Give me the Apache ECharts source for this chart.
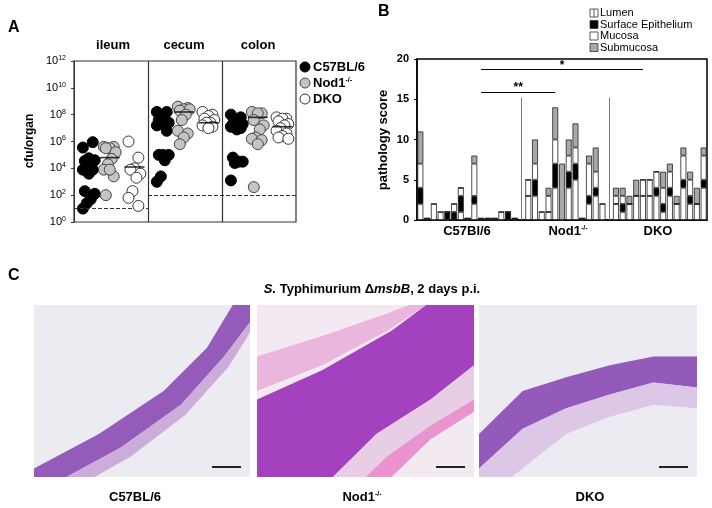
<!DOCTYPE html>
<html><head><meta charset="utf-8">
<script src="https://cdn.jsdelivr.net/npm/echarts@6/dist/echarts.min.js"></script>
<style>html,body{margin:0;padding:0;background:#fff}#c{width:712px;height:508px}</style>
</head><body><div id="c"></div>
<script>
// ---- Panel A data (log10 cfu/organ) ----
const organs = ['ileum','cecum','colon'];
const strains = ['C57BL/6','Nod1-/-','DKO'];
const ileumC57 = [5.55,5.95,4.75,4.55,4.6,3.9,3.9,3.9,3.9,3.6,2.3,2.1,1.7,1.4,1.0];
const ileumNod1 = [5.6,5.6,5.5,5.5,5.2,4.7,4.3,3.9,3.4,3.9,2.0];
const ileumDKO = [6.0,4.8,4.0,3.9,3.6,3.3,2.3,1.8,1.2];
const cecumC57 = [8.2,8.2,7.8,7.6,7.4,7.4,7.6,7.2,6.8,5.0,5.0,5.0,4.6,3.4,3.0];
const cecumNod1 = [8.6,8.5,8.4,8.3,8.4,8.0,7.6,6.8,6.6,6.3,5.8];
const cecumDKO = [8.2,8.0,7.9,7.7,7.6,7.4,7.4,7.2,7.1,7.0];
const colonC57 = [8.0,7.8,7.6,7.3,7.3,7.2,7.2,7.1,7.0,6.9,4.8,4.5,4.5,4.4,3.1];
const colonNod1 = [8.2,8.1,8.1,7.6,7.2,6.9,6.3,6.2,6.1,5.8,2.6];
const colonDKO = [7.8,7.7,7.7,7.5,7.3,7.2,7.0,6.8,6.6,6.4,6.3,6.2];
const mediansA = [[3.9,4.8,4.1],[7.6,8.2,7.4],[7.3,7.8,7.1]];
const detectionLimit = [1,2,2];
const yTicksA = [0,2,4,6,8,10,12];

// ---- Panel B data: per-mouse pathology scores [lumen, surface epithelium, mucosa, submucosa] ----
const groupsB = ['C57Bl/6','Nod1-/-','DKO'];
const layersB = ['Lumen','Surface Epithelium','Mucosa','Submucosa'];
const scoresC57 = [[2,2,3,4],[0,0.2,0,0],[0,0,2,0],[0,0,1,0],[0,1,0,0],[0,1,1,0],[1,2,1,0],[0,0.2,0,0],[2,1,4,1],[0,0.2,0,0],[0,0.2,0,0],[0,0.2,0,0],[0,0,1,0],[0,1,0,0],[0,0.2,0,0]];
const scoresNod1 = [[3,0,2,0],[3,2,2,3],[0,0,1,0],[1,0,2,1],[4,3,3,4],[0,0,0,7],[4,2,2,2],[5,2,2,3],[0,0.2,0,0],[2,1,4,1],[3,1,2,3],[0,0,2,0]];
const scoresDKO = [[2,0,1,1],[1,1,1,1],[2,0,0,1],[3,0,0,2],[3,0,2,0],[3,0,2,0],[3,1,2,0],[1,1,2,2],[3,1,2,1],[2,0,0,1],[4,1,3,1],[2,1,2,1],[2,0,0,2],[4,1,3,1]];
const yTicksB = [0,5,10,15,20];

const F = '"Liberation Sans", Arial, sans-serif';
const chart = echarts.init(document.getElementById('c'));

const groupsA = [[ileumC57,ileumNod1,ileumDKO],[cecumC57,cecumNod1,cecumDKO],[colonC57,colonNod1,colonDKO]];
const styleA = [{color:'#000',borderColor:'#000'},{color:'#c4c4c4',borderColor:'#444'},{color:'#fff',borderColor:'#333'}];
const centers = [0.6,1.45,2.45];
const seriesA = [];
for (let s=0;s<3;s++){
  const d=[];
  for (let o=0;o<3;o++){
    groupsA[o][s].forEach((v,i)=>{ d.push([o*3+centers[s]+(((i*5)%7)-3)*0.08, v]); });
  }
  seriesA.push({type:'scatter',name:strains[s],xAxisIndex:0,yAxisIndex:0,data:d,symbolSize:11,
    itemStyle:Object.assign({borderWidth:1,opacity:1},styleA[s]),z:3+s});
}
const medD=[];
for (let o=0;o<3;o++) for (let s=0;s<3;s++) medD.push([o*3+centers[s], mediansA[o][s]]);
seriesA.push({type:'scatter',data:medD,symbol:'rect',symbolSize:[20,1.6],itemStyle:{color:'#000'},z:10,xAxisIndex:0,yAxisIndex:0,
  markLine:{silent:true,symbol:'none',label:{show:false},
    data:[
      [{coord:[0,detectionLimit[0]],lineStyle:{type:'dashed',color:'#333',width:1}},{coord:[3,detectionLimit[0]]}],
      [{coord:[3,detectionLimit[1]],lineStyle:{type:'dashed',color:'#333',width:1}},{coord:[9,detectionLimit[2]]}],
      [{coord:[3,0],lineStyle:{type:'solid',color:'#333',width:1.2}},{coord:[3,12]}],
      [{coord:[6,0],lineStyle:{type:'solid',color:'#333',width:1.2}},{coord:[6,12]}]
    ]}});

const allB = [].concat(scoresC57,[null],scoresNod1,[null],scoresDKO);
const catsB = allB.map((_,i)=>String(i));
const fills = ['#fff','#000','#fff','#a8a8a8'];
const seriesB = layersB.map((name,k)=>({type:'bar',name,stack:'p',xAxisIndex:1,yAxisIndex:1,barCategoryGap:'12%',
  data:allB.map(r=>r?r[k]:'-'),itemStyle:{color:fills[k],borderColor:'#222',borderWidth:0.8}}));
const sep1 = scoresC57.length, sep2 = scoresC57.length+1+scoresNod1.length;
seriesB[0].markLine={silent:true,symbol:'none',animation:false,
  data:[
    [{coord:[String(sep1),0],lineStyle:{color:'#777',width:1,type:'solid'},label:{show:false}},{coord:[String(sep1),15.2]}],
    [{coord:[String(sep2),0],lineStyle:{color:'#777',width:1,type:'solid'},label:{show:false}},{coord:[String(sep2),15.2]}],
    [{coord:['9',15.9],lineStyle:{color:'#000',width:1.2,type:'solid'},label:{show:true,position:'middle',formatter:'**',fontSize:12,fontWeight:'bold',color:'#000',distance:-2,fontFamily:F}},{coord:['20',15.9]}],
    [{coord:['9',18.7],lineStyle:{color:'#000',width:1.2,type:'solid'},label:{show:true,position:'middle',formatter:'*',fontSize:12,fontWeight:'bold',color:'#000',distance:-2,fontFamily:F}},{coord:['33',18.7]}]
  ]};

const txt=(x,y,t,o)=>({type:'text',x,y,style:Object.assign({text:t,fontFamily:F,fontWeight:'bold',fontSize:13,fill:'#000'},o||{})});
const supText=(x,y,size,extra)=>({type:'text',x,y,style:Object.assign({text:'Nod1{s|-/-}',fontFamily:F,fontWeight:'bold',fontSize:size,fill:'#000',textVerticalAlign:'middle',rich:{s:{fontSize:7,fontWeight:'bold',verticalAlign:'top',padding:[0,0,6,0],fontFamily:F}}},extra||{})});
const graphics = [
  txt(8,20,'A',{fontSize:16}), txt(378,4,'B',{fontSize:16}), txt(8,268,'C',{fontSize:16}),
  txt(113,52,'ileum',{textAlign:'center',textVerticalAlign:'bottom'}),
  txt(184,52,'cecum',{textAlign:'center',textVerticalAlign:'bottom'}),
  txt(258,52,'colon',{textAlign:'center',textVerticalAlign:'bottom'}),
  {type:'text',x:30,y:141,rotation:Math.PI/2,style:{text:'cfu/organ',fontFamily:F,fontWeight:'bold',fontSize:12,textAlign:'center',textVerticalAlign:'middle',fill:'#000'}},
  {type:'text',x:383,y:140,rotation:Math.PI/2,style:{text:'pathology score',fontFamily:F,fontWeight:'bold',fontSize:13,textAlign:'center',textVerticalAlign:'middle',fill:'#000'}},
  txt(467,231,'C57Bl/6',{textAlign:'center',textVerticalAlign:'middle'}),
  supText(568,231,13,{textAlign:'center'}),
  txt(658,231,'DKO',{textAlign:'center',textVerticalAlign:'middle'})
];
strains.forEach((s,i)=>{
  const y=67+i*16;
  graphics.push({type:'circle',shape:{cx:305,cy:y,r:5},style:{fill:styleA[i].color,stroke:styleA[i].borderColor,lineWidth:1}});
  if(i===1) graphics.push(supText(313,y,13));
  else graphics.push(txt(313,y,s,{textVerticalAlign:'middle'}));
});
layersB.forEach((l,i)=>{
  const y=13+i*11.5;
  graphics.push({type:'rect',shape:{x:590,y:y-4,width:8,height:8},style:{fill:fills[i],stroke:'#333',lineWidth:0.8}});
  if(i===0) graphics.push({type:'line',shape:{x1:594,y1:y-4,x2:594,y2:y+4},style:{stroke:'#333',lineWidth:0.8}});
  graphics.push({type:'text',x:600,y:y,style:{text:l,fontFamily:F,fontSize:11,textVerticalAlign:'middle',fill:'#000'}});
});
graphics.push({type:'text',x:372,y:289,style:{text:'{i|S.} Typhimurium Δ{i|msbB}, 2 days p.i.',fontFamily:F,fontWeight:'bold',fontSize:13,textAlign:'center',textVerticalAlign:'middle',fill:'#000',
  rich:{i:{fontStyle:'italic',fontWeight:'bold',fontSize:13,fontFamily:F}}}});
// Panel C histology placeholders (drawn shapes, relative coords inside each image box)
const boxes=[[34,305,216,172],[257,305,217,172],[479,305,218,172]];
const bg=['#ecebf2','#f3eaf1','#ecebf1'];
const P=(b,pts)=>pts.map(p=>[b[0]+p[0]*b[2],b[1]+p[1]*b[3]]);
const shapes=[
  [0,[[0,0.95],[0.3,0.75],[0.6,0.5],[0.8,0.25],[0.92,0],[1,0],[1,0.1],[0.88,0.3],[0.68,0.58],[0.4,0.83],[0.15,1],[0,1]],'#8b4bb4'],
  [0,[[0.15,1],[0.4,0.83],[0.68,0.58],[0.88,0.3],[1,0.1],[1,0.16],[0.9,0.36],[0.7,0.64],[0.45,0.88],[0.28,1]],'#c9a6d6'],
  [1,[[0,0.3],[0.3,0.18],[0.6,0.05],[0.7,0],[0.78,0],[0.6,0.15],[0.3,0.35],[0,0.5]],'#eab0da'],
  [1,[[0,0.55],[0.3,0.38],[0.62,0.15],[0.78,0],[1,0],[1,0.35],[0.8,0.55],[0.55,0.75],[0.35,1],[0,1]],'#9a2fb8'],
  [1,[[0.35,1],[0.55,0.75],[0.8,0.55],[1,0.35],[1,0.55],[0.8,0.7],[0.6,0.88],[0.5,1]],'#e6cbe3'],
  [1,[[0.5,1],[0.6,0.88],[0.8,0.7],[1,0.55],[1,0.62],[0.8,0.78],[0.62,1]],'#e98bcb'],
  [2,[[0,0.75],[0.2,0.5],[0.4,0.42],[0.6,0.35],[0.8,0.3],[1,0.3],[1,0.48],[0.8,0.45],[0.6,0.52],[0.4,0.6],[0.2,0.72],[0,0.95]],'#8a4ab6'],
  [2,[[0,0.95],[0.2,0.72],[0.4,0.6],[0.6,0.52],[0.8,0.45],[1,0.48],[1,0.6],[0.8,0.58],[0.6,0.65],[0.4,0.75],[0.25,0.9],[0.15,1],[0,1]],'#dcc3e4']
];
boxes.forEach((b,i)=>graphics.push({type:'rect',shape:{x:b[0],y:b[1],width:b[2],height:b[3]},style:{fill:bg[i]}}));
shapes.forEach(s=>graphics.push({type:'polygon',shape:{points:P(boxes[s[0]],s[1])},style:{fill:s[2],opacity:0.9}}));
boxes.forEach(b=>graphics.push({type:'line',shape:{x1:b[0]+b[2]-38,y1:b[1]+b[3]-10,x2:b[0]+b[2]-9,y2:b[1]+b[3]-10},style:{stroke:'#222',lineWidth:2}}));
graphics.push(txt(135,497,'C57BL/6',{textAlign:'center',textVerticalAlign:'middle'}));
graphics.push(supText(362,497,13,{textAlign:'center'}));
graphics.push(txt(590,497,'DKO',{textAlign:'center',textVerticalAlign:'middle'}));

chart.setOption({
  animation:false,
  grid:[{left:74,top:61,width:222,height:161,show:true,borderColor:'#333',borderWidth:1.2},
        {left:417,top:59,width:290,height:161,show:true,borderColor:'#000',borderWidth:1.5}],
  xAxis:[{gridIndex:0,type:'value',min:0,max:9,show:false},
         {gridIndex:1,type:'category',data:catsB,axisLabel:{show:false},axisTick:{show:false},axisLine:{lineStyle:{color:'#000',width:1.5}}}],
  yAxis:[{gridIndex:0,type:'value',min:0,max:12,interval:2,splitLine:{show:false},
          axisLine:{show:true,lineStyle:{color:'#333'}},axisTick:{show:true,length:3},
          axisLabel:{fontFamily:F,fontSize:11,color:'#000',formatter:v=>yTicksA.includes(v)?'10{s|'+v+'}':'',rich:{s:{fontSize:7,verticalAlign:'top',padding:[0,0,6,0],fontFamily:F}}}},
         {gridIndex:1,type:'value',min:0,max:20,interval:5,splitLine:{show:false},
          axisLine:{show:true,lineStyle:{color:'#000',width:1.5}},axisTick:{show:true,length:3,lineStyle:{color:'#000'}},
          axisLabel:{fontFamily:F,fontSize:11,fontWeight:'bold',color:'#000',formatter:v=>yTicksB.includes(v)?String(v):''}}],
  series:seriesA.concat(seriesB),
  graphic:graphics
});
</script></body></html>
